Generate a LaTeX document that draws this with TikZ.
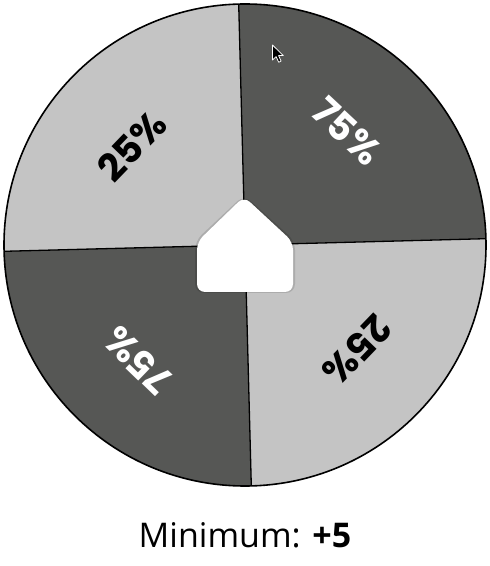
\documentclass[tikz,border=0pt]{standalone}
\usepackage{fontspec}
\usetikzlibrary{calc}
\setmainfont{Open Sans}
\newfontfamily\wheelfont{Poppins}
\definecolor{lightseg}{RGB}{196,196,196}
\definecolor{darkseg}{RGB}{86,87,85}
\tikzset{
  seglabel/.style={font=\wheelfont\bfseries\fontsize{38}{38}\selectfont, inner sep=0pt},
  divline/.style={draw=black, line width=1.3pt},
}
\begin{document}
\begin{tikzpicture}[x=1pt,y=1pt]
\useasboundingbox (0,0) rectangle (490,566);
\fill[white] (0,0) rectangle (490,566);
\coordinate (C) at (245,321);
\def\rot{1.5}
\def\R{241}
% sectors
\fill[lightseg] (C) -- ++(90+\rot:\R) arc[start angle=90+\rot, end angle=180+\rot, radius=\R] -- cycle;
\fill[darkseg] (C) -- ++(\rot:\R) arc[start angle=\rot, end angle=90+\rot, radius=\R] -- cycle;
\fill[lightseg] (C) -- ++(-90+\rot:\R) arc[start angle=-90+\rot, end angle=\rot, radius=\R] -- cycle;
\fill[darkseg] (C) -- ++(180+\rot:\R) arc[start angle=180+\rot, end angle=270+\rot, radius=\R] -- cycle;
% dividers
\coordinate (T) at ($(C)+(90+\rot:\R)$);
\coordinate (B) at ($(C)+(270+\rot:\R)$);
\coordinate (Rt) at ($(C)+(\rot:\R)$);
\coordinate (L) at ($(C)+(180+\rot:\R)$);
\draw[divline] (T) -- (B);
\draw[divline] (Rt) -- (L);
\draw[black, line width=1.6pt] (C) circle[radius=\R];
% labels
\node[seglabel, text=black, rotate=46] (tl) at (132,420) {25\%};
\node[seglabel, text=white, rotate=-43] (tr) at (347,435) {75\%};
\node[seglabel, text=black, rotate=-134] (br) at (357,216) {25\%};
\node[seglabel, text=white, rotate=136] (bl) at (138,206) {75\%};
% pointer shadow
\fill[black, opacity=0.12, rounded corners=9pt] (195,273) -- (195,325) -- (244,371) -- (295,325) -- (295,273) -- cycle;
% pointer
\fill[white, rounded corners=8pt] (197,274) -- (197,324) -- (244,369.5) -- (293,324) -- (293,274) -- cycle;
% cursor
\begin{scope}[shift={(272.5,521)}]
\filldraw[fill=black, draw=white, line width=0.8pt, line join=round]
  (0,0) -- (0,-15) -- (3.6,-11.6) -- (6.2,-17.2) -- (8.6,-16.1) -- (6.1,-10.6) -- (10.8,-10.6) -- cycle;
\end{scope}
% caption
\node[anchor=base, inner sep=0pt, font=\fontsize{34}{34}\selectfont] (cap) at (245,19) {Minimum: \textbf{+5}};
\end{tikzpicture}
\end{document}
